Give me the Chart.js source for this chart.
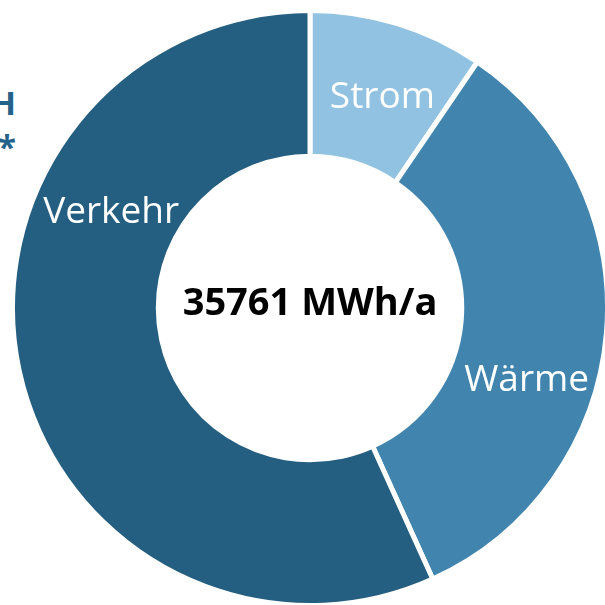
<!DOCTYPE html>
<html>
<head>
<meta charset="utf-8">
<script src="https://cdn.jsdelivr.net/npm/chart.js@4.4.1/dist/chart.umd.min.js"></script>
<style>
  html, body { margin: 0; padding: 0; background: #fff; overflow: hidden; }
  body { width: 605px; height: 605px; position: relative; }
  #wrap { position: absolute; left: 10px; top: 8px; width: 600px; height: 600px; }
  .cut { position: absolute; right: 589px; font-family: "Open Sans", sans-serif; font-weight: bold; color: #24628A; white-space: nowrap; }
</style>
</head>
<body>
<div class="cut" style="top:80px;font-size:33px;">H</div>
<div class="cut" style="top:124px;font-size:33px;">*</div>
<div id="wrap"><canvas id="energyChart"></canvas></div>
<script>
// Endenergieverbrauch nach Sektoren (MWh/a)
const categories = ['Strom', 'Wärme', 'Verkehr'];
const values = [3400, 12060, 20301];
const colors = ['#92C2E1', '#4185AE', '#245E80'];
const totalLabel = '35761 MWh/a';

// Beschriftung innerhalb des Rings
const labelPlugin = {
    id: 'ringLabels',
    afterDatasetsDraw(chart, args, opts) {
        const ctx = chart.ctx;
        const meta = chart.getDatasetMeta(0);
        ctx.save();
        ctx.textAlign = 'center';
        ctx.textBaseline = 'middle';
        ctx.fillStyle = '#ffffff';
        ctx.font = '37px "Open Sans", sans-serif';
        meta.data.forEach((arc, i) => {
            const r = (arc.innerRadius + arc.outerRadius) / 2;
            const a = (opts.angles[i] - 90) * Math.PI / 180;
            ctx.fillText(categories[i], arc.x + Math.cos(a) * r + 3, arc.y + Math.sin(a) * r + 3);
        });
        const c = meta.data[0];
        ctx.fillStyle = '#000000';
        ctx.font = 'bold 38px "Open Sans", sans-serif';
        ctx.fillText(totalLabel, c.x, c.y - 4);
        ctx.restore();
    }
};

const ctx = document.getElementById('energyChart');
new Chart(ctx, {
    type: 'doughnut',
    data: {
        labels: categories,
        datasets: [{
            data: values,
            backgroundColor: colors,
            borderColor: '#ffffff',
            borderWidth: 5
        }]
    },
    options: {
        responsive: true,
        maintainAspectRatio: false,
        animation: false,
        cutout: '51%',
        layout: { padding: 0 },
        plugins: {
            legend: { display: false },
            tooltip: { enabled: false },
            ringLabels: { angles: [18, 108, 296] }
        }
    },
    plugins: [labelPlugin]
});
</script>
</body>
</html>
